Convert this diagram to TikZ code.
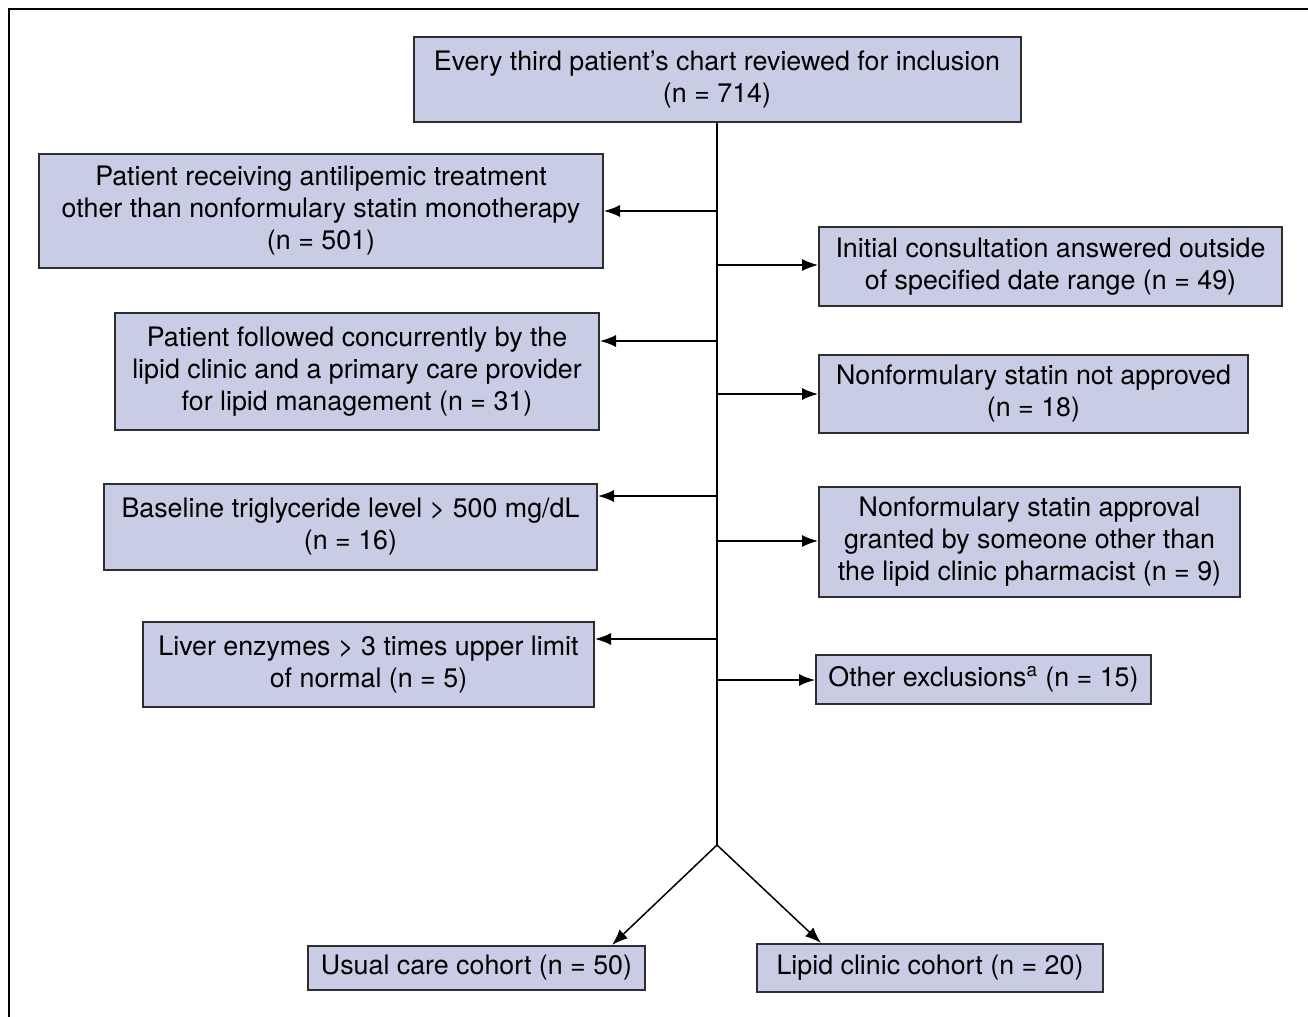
\documentclass[tikz,border=0pt]{standalone}
\usepackage{fontspec}
\setmainfont{TeX Gyre Heros}
\usetikzlibrary{arrows.meta}
\definecolor{boxfill}{RGB}{200,204,228}
\definecolor{boxline}{RGB}{45,45,50}
\tikzset{
  cbox/.style={draw=boxline, line width=1pt, fill=boxfill, align=center,
    inner sep=0pt, font=\fontsize{13.4}{16}\selectfont},
  trunk/.style={line width=0.75pt},
  flow/.style={line width=0.75pt, -{Latex[length=8pt,width=6pt]}},
}

\begin{document}
\begin{tikzpicture}[x=0.5pt,y=-0.5pt]
  \useasboundingbox (0,0) rectangle (1308,1017);
  \draw[line width=1pt] (9,1017) -- (9,9) -- (1308,9);

  %% start
  \node[cbox, minimum width=303.5pt, minimum height=42.5pt] (top) at (717,79.5)
    {Every third patient’s chart reviewed for inclusion\\(n = 714)};

  %% exclusions, left side
  \node[cbox, minimum width=282pt, minimum height=57pt] (L1) at (321,211)
    {Patient receiving antilipemic treatment\\other than nonformulary statin monotherapy\\(n = 501)};
  \node[cbox, minimum width=242pt, minimum height=58.5pt] (L2) at (357,371.5)
    {Patient followed concurrently by the\\lipid clinic and a primary care provider\\for lipid management (n = 31)};
  \node[cbox, minimum width=246.5pt, minimum height=43pt] (L3) at (350.5,527)
    {Baseline triglyceride level > 500 mg/dL\\(n = 16)};
  \node[cbox, minimum width=225.5pt, minimum height=42.5pt] (L4) at (368.5,664.5)
    {Liver enzymes > 3 times upper limit\\of normal (n = 5)};

  %% exclusions, right side
  \node[cbox, minimum width=231.5pt, minimum height=39.5pt] (R1) at (1050.5,266.5)
    {Initial consultation answered outside\\of specified date range (n = 49)};
  \node[cbox, minimum width=214.5pt, minimum height=39pt] (R2) at (1033.5,394)
    {Nonformulary statin not approved\\(n = 18)};
  \node[cbox, minimum width=210.5pt, minimum height=55pt] (R3) at (1029.5,542)
    {Nonformulary statin approval\\granted by someone other than\\the lipid clinic pharmacist (n = 9)};
  \node[cbox, minimum width=167.5pt, minimum height=24.5pt] (R4) at (983.5,679.5)
    {Other exclusions\textsuperscript{a} (n = 15)};

  %% cohorts
  \node[cbox, minimum width=168.5pt, minimum height=22pt] (usual) at (476.5,968)
    {Usual care cohort (n = 50)};
  \node[cbox, minimum width=173pt, minimum height=24pt] (lipid) at (930,968)
    {Lipid clinic cohort (n = 20)};

  %% trunk
  \coordinate (apex) at (717,845);
  \draw[trunk] (top.south) -- (apex);

  %% branches
  \coordinate (j1) at (717,211);
  \coordinate (j2) at (717,265);
  \coordinate (j3) at (717,341);
  \coordinate (j4) at (717,394);
  \coordinate (j5) at (717,496);
  \coordinate (j6) at (717,541);
  \coordinate (j7) at (717,639);
  \coordinate (j8) at (717,680);
  \draw[flow] (j1) -- (j1 -| L1.east);
  \draw[flow] (j2) -- (j2 -| R1.west);
  \draw[flow] (j3) -- (j3 -| L2.east);
  \draw[flow] (j4) -- (j4 -| R2.west);
  \draw[flow] (j5) -- (j5 -| L3.east);
  \draw[flow] (j6) -- (j6 -| R3.west);
  \draw[flow] (j7) -- (j7 -| L4.east);
  \draw[flow] (j8) -- (j8 -| R4.west);

  %% split
  \draw[flow] (apex) -- ([xshift=-17pt]usual.north east);
  \draw[flow] (apex) -- ([xshift=32.5pt]lipid.north west);
\end{tikzpicture}
\end{document}
